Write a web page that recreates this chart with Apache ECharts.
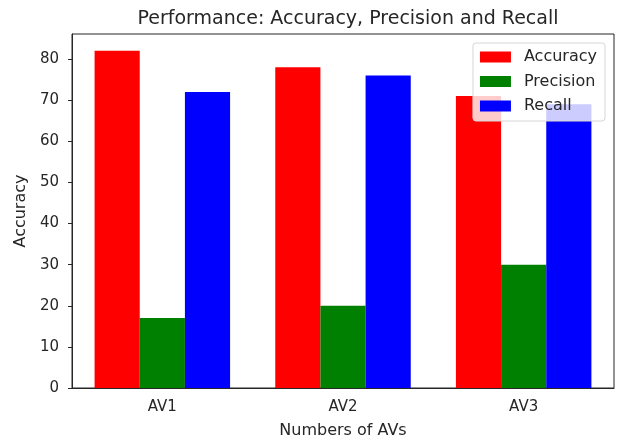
<!DOCTYPE html>
<html>
<head>
<meta charset="utf-8">
<script src="https://cdn.jsdelivr.net/npm/echarts@6/dist/echarts.min.js"></script>
<style>
  html, body { margin: 0; padding: 0; background: #fff; }
  #chart { width: 618px; height: 441px; }
</style>
</head>
<body>
<div id="chart"></div>
<script>
// data
const categories = ["AV1", "AV2", "AV3"];
const accuracy = [82, 78, 71];
const precision = [17, 20, 30];
const recall = [72, 76, 69];

const font = "DejaVu Sans";
const ink = "#262626";

const chart = echarts.init(document.getElementById("chart"), null, { renderer: "canvas" });

chart.setOption({
  backgroundColor: "#fff",
  animation: false,
  textStyle: { fontFamily: font },
  title: {
    text: "Performance: Accuracy, Precision and Recall",
    left: 343,
    textAlign: "center",
    top: 5,
    textStyle: { fontFamily: font, fontSize: 19, fontWeight: "normal", color: ink },
  },
  legend: {
    orient: "vertical",
    right: 13,
    top: 43,
    data: ["Accuracy", "Precision", "Recall"],
    icon: "rect",
    itemWidth: 31,
    itemHeight: 11,
    itemGap: 8.5,
    padding: [6, 8, 7, 7],
    backgroundColor: "rgba(255,255,255,0.8)",
    borderColor: "#d6d6d6",
    borderWidth: 1,
    borderRadius: 3,
    textStyle: { fontFamily: font, fontSize: 16, color: ink, padding: [0, 0, 0, 8] },
  },
  grid: {
    left: 72,
    right: 4,
    top: 34,
    bottom: 53,
    outerBoundsMode: "none",
    containLabel: false,
    show: true,
    borderColor: ink,
    borderWidth: 1,
  },
  xAxis: {
    type: "category",
    data: categories,
    name: "Numbers of AVs",
    nameLocation: "middle",
    nameGap: 35,
    nameTextStyle: { fontFamily: font, fontSize: 16, color: ink },
    axisLine: { lineStyle: { color: ink, width: 1 } },
    axisTick: { alignWithLabel: true, length: 4, lineStyle: { color: ink } },
    axisLabel: { fontFamily: font, fontSize: 15, color: ink, margin: 12 },
  },
  yAxis: {
    type: "value",
    min: 0,
    max: 86.1,
    interval: 10,
    name: "Accuracy",
    nameLocation: "middle",
    nameGap: 39,
    nameTextStyle: { fontFamily: font, fontSize: 16, color: ink },
    axisLine: { show: true, lineStyle: { color: ink, width: 1 } },
    axisTick: { show: true, length: 4, lineStyle: { color: ink } },
    axisLabel: { fontFamily: font, fontSize: 15, color: ink, margin: 13, showMaxLabel: false },
    splitLine: { show: false },
  },
  series: [
    {
      name: "Accuracy",
      type: "bar",
      data: accuracy,
      barWidth: "25%",
      barGap: "0%",
      itemStyle: { color: "#ff0000" },
    },
    {
      name: "Precision",
      type: "bar",
      data: precision,
      barWidth: "25%",
      barGap: "0%",
      itemStyle: { color: "#008000" },
    },
    {
      name: "Recall",
      type: "bar",
      data: recall,
      barWidth: "25%",
      barGap: "0%",
      itemStyle: { color: "#0000ff" },
    },
  ],
});
</script>
</body>
</html>
